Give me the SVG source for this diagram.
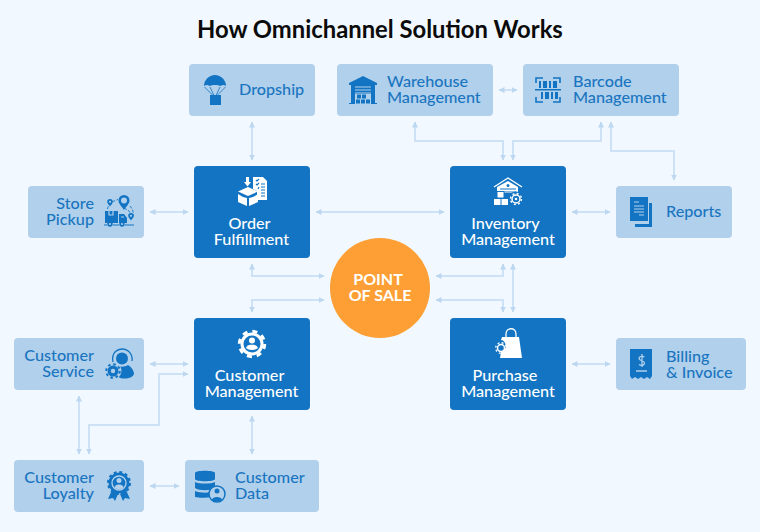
<svg xmlns="http://www.w3.org/2000/svg" width="760" height="532" viewBox="0 0 760 532">
  <style>
    text { font-family: "Lato", "Liberation Sans", sans-serif; }
    .title { font-size: 23.8px; font-weight: 700; fill: #0b0b0b; }
    .soft { fill: #b1d0ec; }
    .deep { fill: #1274c2; }
    .soft-label { font-size: 16.2px; font-weight: 500; fill: #1a75c0; }
    .deep-label { font-size: 16.2px; font-weight: 500; fill: #fff; text-anchor: middle; }
    .pos-label { font-size: 16px; font-weight: 700; fill: #fff; text-anchor: middle; }
    .link { fill: none; stroke: #cde2f6; stroke-width: 2; marker-start: url(#tip); marker-end: url(#tip); }
    .ib { fill: #1274c2; }
    .il { fill: none; stroke: #1274c2; stroke-width: 1.3; }
    .is { fill: none; stroke: #b1d0ec; stroke-width: 1.2; }
    .wb { fill: #fff; }
    .wl { fill: none; stroke: #fff; stroke-width: 1.3; }
    .ws { fill: none; stroke: #1274c2; stroke-width: 1.1; }
  </style>
  <defs>
    <marker id="tip" viewBox="0 0 6 6" refX="5.5" refY="3" markerWidth="6" markerHeight="6" markerUnits="userSpaceOnUse" orient="auto-start-reverse">
      <path d="M0 0L6 3L0 6Z" fill="#bcd7ef"/>
    </marker>
  </defs>

  <rect width="760" height="532" fill="#f1f8ff"/>
  <text class="title" x="197" y="38">How Omnichannel Solution Works</text>

  <g id="connectors">
    <path class="link" d="M252 122V160"/>
    <path class="link" d="M499 90H517"/>
    <path class="link" d="M415 122V141H503V160"/>
    <path class="link" d="M601 122V141H513V160"/>
    <path class="link" d="M611 122V151H674V180"/>
    <path class="link" d="M150 212H188"/>
    <path class="link" d="M316 212H444"/>
    <path class="link" d="M572 212H610"/>
    <path class="link" d="M252 264V276H324"/>
    <path class="link" d="M252 312V300H324"/>
    <path class="link" d="M503 264V276H436"/>
    <path class="link" d="M503 312V300H436"/>
    <path class="link" d="M513 264V312"/>
    <path class="link" d="M572 364H610"/>
    <path class="link" d="M150 364H188"/>
    <path class="link" d="M188 374H159V425H89V454"/>
    <path class="link" d="M79 396V454"/>
    <path class="link" d="M252 416V454"/>
    <path class="link" d="M150 486H179"/>
  </g>

  <g id="dropship">
    <rect class="soft" x="189" y="64" width="126" height="52" rx="4"/>
    <path class="ib" d="M204 86C204 80 209 75 215 75S226 80 226 86C224 84.500 222 84.500 220.500 86C218.500 84.500 211.500 84.500 209.500 86C208 84.500 206 84.500 204 86Z"/>
    <path class="il" style="stroke-width:.8" d="M204.500 87L213 95.500M210 87L214 95.500M220 87L216 95.500M225.500 87L217 95.500"/>
    <rect class="ib" x="210" y="95" width="11" height="10"/>
    <text class="soft-label" x="239" y="95">Dropship</text>
  </g>

  <g id="warehouse">
    <rect class="soft" x="337" y="64" width="156" height="52" rx="4"/>
    <path class="ib" d="M349 83L363 76L377 83V85H375V103H377V104H349V103H351V85H349Z"/>
    <path class="is" d="M355 87H371M355 90H371M355 93H371"/>
    <rect class="soft" x="355" y="94" width="16" height="10"/>
    <path class="ib" d="M357 94.500H361V98.500H357ZM362 94.500H366V98.500H362ZM356 99.500H360V103.500H356ZM361 99.500H365V103.500H361ZM366 99.500H370V103.500H366Z"/>
    <text class="soft-label" x="387" y="87">Warehouse</text>
    <text class="soft-label" x="387" y="103">Management</text>
  </g>

  <g id="barcode">
    <rect class="soft" x="523" y="64" width="156" height="52" rx="4"/>
    <path class="il" style="stroke-width:1.6" d="M536 83V78H543M553 78H560V83M536 97V102H543M553 102H560V97"/>
    <rect class="ib" x="535" y="89" width="26" height="1.500"/>
    <path class="ib" d="M539 81H541V88H539ZM543 81H547V88H543ZM549 81H551V88H549ZM553 81H557V88H553ZM541 92H543V99H541ZM545 92H549V99H545ZM551 92H553V99H551ZM555 92H558V99H555Z"/>
    <text class="soft-label" x="573" y="87">Barcode</text>
    <text class="soft-label" x="573" y="103">Management</text>
  </g>

  <g id="store-pickup">
    <rect class="soft" x="28" y="186" width="116" height="52" rx="4"/>
    <text class="soft-label" x="94" y="209" text-anchor="end">Store</text>
    <text class="soft-label" x="94" y="225" text-anchor="end">Pickup</text>
    <path class="il" style="stroke-width:.9" stroke-dasharray="3 1.500" d="M107.500 209C108 205 112 201 118 199.500M130 206C133 209 134 213 132.500 218M124 208C128 210 130 212 132 214"/>
    <path class="ib" d="M105 211H118V223H105ZM119 214H124L127 218V223H119Z"/>
    <path class="is" d="M109 211V215H113V211M121 217H124"/>
    <circle class="ib" cx="110" cy="224" r="2.700"/>
    <circle class="ib" cx="122" cy="224" r="2.700"/>
    <circle class="soft" cx="110" cy="224" r="1"/>
    <circle class="soft" cx="122" cy="224" r="1"/>
    <path class="il" style="stroke-width:1" d="M104 225H107M113 225H119M125 225H134"/>
    <path class="ib" d="M124 195A5.500 5.500 0 0 1 129.500 200.500C129.500 204 126 206.500 124 210C122 206.500 118.500 204 118.500 200.500A5.500 5.500 0 0 1 124 195Z"/>
    <circle class="soft" cx="124" cy="200.500" r="3"/>
    <path class="ib" d="M110 199A2.800 2.800 0 0 1 112.800 201.800C112.800 203.500 111 205 110 206.500C109 205 107.200 203.500 107.200 201.800A2.800 2.800 0 0 1 110 199Z"/>
    <circle class="soft" cx="110" cy="201.800" r="1.100"/>
    <path class="ib" d="M131 213A2.800 2.800 0 0 1 133.800 215.800C133.800 217.500 132 219 131 220.500C130 219 128.200 217.500 128.200 215.800A2.800 2.800 0 0 1 131 213Z"/>
    <circle class="soft" cx="131" cy="215.800" r="1.100"/>
  </g>

  <g id="reports">
    <rect class="soft" x="616" y="186" width="116" height="52" rx="4"/>
    <path class="ib" d="M649 203H652V227H635V224H649Z"/>
    <path class="ib" d="M630 197H648V221H630Z"/>
    <path class="is" d="M634 202H639M634 206H644M634 209H644M634 212H644M639 215H644"/>
    <text class="soft-label" x="666" y="217">Reports</text>
  </g>

  <g id="order-fulfillment">
    <rect class="deep" x="194" y="166" width="116" height="92" rx="4"/>
    <rect class="wb" x="246" y="177" width="3" height="6"/>
    <path class="wb" d="M244 182H251L247.500 186.500Z"/>
    <path class="wb" d="M253 177H263L267 181V200H257V191L253 189Z"/>
    <path class="ws" d="M256 180L257 181L259 179M261 184H265M256 184L257 185L259 183M261 187H265M259 187L258 189M261 190H265M261 193H265M261 196H265"/>
    <path class="wb" d="M248 187L258 191.500L248 196L238 191.500Z"/>
    <path class="wb" d="M238 194L243 197L247 198V206L238 202ZM249 198L253 197L258 194V202L249 206Z"/>
    <text class="deep-label" x="249.500" y="229">Order</text>
    <text class="deep-label" x="251.500" y="245">Fulfillment</text>
  </g>

  <g id="inventory">
    <rect class="deep" x="450" y="166" width="116" height="92" rx="4"/>
    <path class="wl" d="M494 187L508 178L522 187"/>
    <path class="wb" d="M508 181L518 187V193H497V187Z"/>
    <circle cx="508" cy="185.500" r="1.500" fill="#1274c2"/>
    <path class="ws" d="M500 189H516M500 192H516"/>
    <rect class="wb" x="497" y="191.500" width="7" height="6.500" stroke="#1274c2"/>
    <rect class="wb" x="494" y="199" width="6.500" height="6"/>
    <rect class="wb" x="501.500" y="199" width="6.500" height="6"/>
    <circle cx="516" cy="199" r="7.500" fill="#1274c2"/>
    <circle cx="516" cy="199" r="4" fill="none" stroke="#fff" stroke-width="1.500"/>
    <circle cx="516" cy="199" r="5.500" fill="none" stroke="#fff" stroke-width="1.400" stroke-dasharray="2 2.320"/>
    <circle class="wb" cx="516" cy="199" r="1.300"/>
    <text class="deep-label" x="505.500" y="229">Inventory</text>
    <text class="deep-label" x="508" y="245">Management</text>
  </g>

  <g id="point-of-sale">
    <circle cx="380" cy="288" r="50" fill="#fd9f34"/>
    <text class="pos-label" x="378" y="285">POINT</text>
    <text class="pos-label" x="380" y="301">OF SALE</text>
  </g>

  <g id="customer-management">
    <rect class="deep" x="194" y="318" width="116" height="92" rx="4"/>
    <circle class="wb" cx="252" cy="344" r="11.500"/>
    <circle cx="252" cy="344" r="12.700" fill="none" stroke="#fff" stroke-width="3" stroke-dasharray="5 4.970"/>
    <circle class="deep" cx="252" cy="344" r="8.500"/>
    <circle class="wb" cx="252" cy="340.500" r="3"/>
    <path class="wb" d="M246 348C247 345 249.500 344.800 252 344.800S257 345 258 348C256 350.500 248 350.500 246 348Z"/>
    <text class="deep-label" x="249.500" y="381">Customer</text>
    <text class="deep-label" x="251.500" y="397">Management</text>
  </g>

  <g id="customer-service">
    <rect class="soft" x="14" y="338" width="130" height="52" rx="4"/>
    <text class="soft-label" x="94" y="361" text-anchor="end">Customer</text>
    <text class="soft-label" x="94" y="377" text-anchor="end">Service</text>
    <path class="il" d="M113 362C111 352 118 349 122 349C128 349 133 354 132 361"/>
    <circle class="ib" cx="122" cy="358.500" r="6"/>
    <path class="ib" d="M117 366C121 367 125 367 128 365C132 367 134 372 134 374C133 377 129 378.500 125 378.500C122 378.500 120 378 118.500 377C120 374 120 370 116 367Z"/>
    <circle class="soft" cx="113" cy="371" r="8.500"/>
    <circle class="ib" cx="113" cy="371" r="5.500"/>
    <circle cx="113" cy="371" r="6.800" fill="none" stroke="#1274c2" stroke-width="2" stroke-dasharray="2.600 2.740"/>
    <circle class="soft" cx="113" cy="371" r="2.200"/>
  </g>

  <g id="customer-loyalty">
    <rect class="soft" x="14" y="460" width="130" height="52" rx="4"/>
    <text class="soft-label" x="94" y="483" text-anchor="end">Customer</text>
    <text class="soft-label" x="94" y="499" text-anchor="end">Loyalty</text>
    <path class="ib" d="M112 490L108 499L113 498L115 501L118 494ZM126 490L130 499L125 498L123 501L120 494Z"/>
    <circle class="ib" cx="119" cy="483" r="10.500"/>
    <circle cx="119" cy="483" r="11" fill="none" stroke="#1274c2" stroke-width="2" stroke-dasharray="3 2.760"/>
    <circle cx="119" cy="483" r="7" fill="none" stroke="#b1d0ec" stroke-width="1.300"/>
    <circle class="soft" cx="119" cy="480.500" r="2.500"/>
    <path class="soft" d="M114.500 488C115 485 117 484.500 119 484.500S123 485 123.500 488C122 489.500 116 489.500 114.500 488Z"/>
  </g>

  <g id="customer-data">
    <rect class="soft" x="185" y="460" width="134" height="52" rx="4"/>
    <path class="ib" d="M195 473C195 470 215 470 215 473V479C215 482 195 482 195 479ZM195 482C199 484 211 484 215 482V488C211 491 199 491 195 488ZM195 491C199 493 209 493 211 492V497C207 498 199 498 195 497Z"/>
    <circle class="soft" cx="217" cy="494" r="8" stroke="#1274c2" stroke-width="1.500"/>
    <circle class="ib" cx="217" cy="491" r="2.500"/>
    <path class="ib" d="M212 500C212 496 222 496 222 500C220 502 214 502 212 500Z"/>
    <text class="soft-label" x="235" y="483">Customer</text>
    <text class="soft-label" x="235" y="499">Data</text>
  </g>

  <g id="purchase-management">
    <rect class="deep" x="450" y="318" width="116" height="92" rx="4"/>
    <path class="wl" d="M506 337V334C506 327 516 327 516 334V337"/>
    <path class="wb" d="M502 337H519L522 358H500L501 352C505 351 507 347 505 343C504 341 503 340 501 340Z"/>
    <circle cx="501" cy="348" r="3.500" fill="none" stroke="#fff" stroke-width="1.500"/>
    <circle cx="501" cy="348" r="5.300" fill="none" stroke="#fff" stroke-width="1.300" stroke-dasharray="2 2.160"/>
    <text class="deep-label" x="505" y="381">Purchase</text>
    <text class="deep-label" x="508" y="397">Management</text>
  </g>

  <g id="billing">
    <rect class="soft" x="616" y="338" width="130" height="52" rx="4"/>
    <path class="ib" d="M630 349H652V376L650 379L647 377L644 379L641 377L638 379L635 377L632 379L630 376Z"/>
    <path class="is" style="stroke-width:1.300" d="M636 371H647M644.500 357C643 356 639 356 639 358.500S644.500 360.500 644.500 363S641 366 639 364.500M642 354V367"/>
    <text class="soft-label" x="666" y="362">Billing</text>
    <text class="soft-label" x="666" y="378">&amp; Invoice</text>
  </g>
</svg>
